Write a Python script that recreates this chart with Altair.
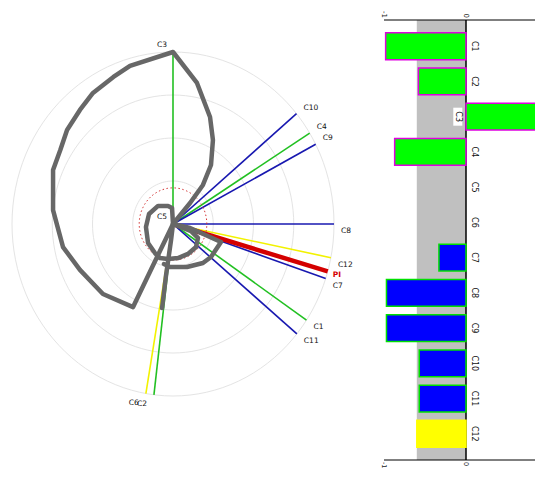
import altair as alt
import numpy as np
import pandas as pd

# ---------------- data ----------------
GREEN, BLUE, YELLOW, RED = "#22c022", "#1818b0", "#f2f200", "#d40000"

ray_names   = ["C1", "C2", "C3", "C4", "C5", "C6", "C7", "C8", "C9", "C10", "C11", "C12", "PI"]
ray_angles  = [-34.0, -96.8, 90.0, 31.9, 90.0, -99.7, -18.5, 0.0, 27.6, 39.9, -39.7, -11.3, -16.0]
ray_lengths = [1.0, 1.0, 1.0, 1.0, 0.0, 1.0, 1.0, 1.0, 1.0, 1.0, 1.0, 1.0, 1.0]
ray_colors  = [GREEN, GREEN, GREEN, GREEN, GREEN, YELLOW, BLUE, BLUE, BLUE, BLUE, BLUE, YELLOW, RED]

# locus curve (three pieces), in polar-plot units
curve_a_x = [-0.068, -0.043, -0.012, 0.0, 0.106, 0.186, 0.236, 0.248, 0.230, 0.149, 0.0,
             -0.267, -0.370, -0.497, -0.578, -0.658, -0.700, -0.745, -0.745, -0.683, -0.578,
             -0.435, -0.248, -0.099, 0.0]
curve_a_y = [-0.488, -0.297, -0.093, 0.0, 0.122, 0.227, 0.343, 0.488, 0.622, 0.820, 1.0,
             0.919, 0.855, 0.762, 0.663, 0.547, 0.430, 0.314, 0.081, -0.134, -0.267,
             -0.407, -0.483, -0.192, 0.0]
curve_b_x = [0.0, -0.006, -0.031, -0.093, -0.149, -0.168, -0.155, -0.112, -0.081, -0.031,
             0.031, 0.093, 0.143, 0.155, 0.112, 0.0]
curve_b_y = [0.0, 0.093, 0.105, 0.105, 0.058, -0.017, -0.110, -0.169, -0.198, -0.203,
             -0.198, -0.174, -0.134, -0.081, -0.041, 0.0]
curve_c_x = [0.0, 0.106, 0.298, 0.236, 0.186, 0.087, -0.019, -0.056]
curve_c_y = [0.0, -0.023, -0.105, -0.192, -0.227, -0.250, -0.250, -0.233]

ring_radii = [0.25, 0.5, 0.75, 1.0]
ref_circle_radius = 0.21

bar_cats   = ["C1", "C2", "C3", "C4", "C5", "C6", "C7", "C8", "C9", "C10", "C11", "C12"]
bar_values = [-0.98, -0.58, 1.05, -0.87, 0.0, 0.0, -0.33, -0.97, -0.97, -0.57, -0.57, -0.60]
bar_fill   = ["#00ff00", "#00ff00", "#00ff00", "#00ff00", "#00ff00", "#00ff00",
              "#0000ff", "#0000ff", "#0000ff", "#0000ff", "#0000ff", "#ffff00"]
bar_stroke = ["#e000e0", "#e000e0", "#e000e0", "#e000e0", "#e000e0", "#e000e0",
              "#00e000", "#00e000", "#00e000", "#00e000", "#00e000", "#ffff00"]
shade_range = [-0.6, 0.0]
tick_values = [-1, 0]
tick_labels = ["-1", "0"]

FONT = "DejaVu Sans"
W, H = 527, 461

# ---------------- polar plot ----------------
xsL = alt.Scale(domain=[-1, 1], range=[4, 326], nice=False, zero=False)
ysL = alt.Scale(domain=[-1, 1], range=[388, 44], nice=False, zero=False)

ring_t = np.arange(0, 361, 3)
ring_rows = []
for r in ring_radii:
    for t in ring_t:
        ring_rows.append({"ring": r, "t": t, "x": r * np.cos(np.radians(t)), "y": r * np.sin(np.radians(t))})
rings_df = pd.DataFrame(ring_rows)
refc_df = pd.DataFrame({"t": ring_t,
                        "x": ref_circle_radius * np.cos(np.radians(ring_t)),
                        "y": ref_circle_radius * np.sin(np.radians(ring_t))})

ang = np.radians(np.array(ray_angles))
ln = np.array(ray_lengths)
rays_df = pd.DataFrame({
    "name": ray_names, "color": ray_colors,
    "x0": 0.0, "y0": 0.0,
    "x1": ln * np.cos(ang), "y1": ln * np.sin(ang),
    "cosv": np.cos(ang), "sinv": np.sin(ang),
})
rays_draw = rays_df[ln > 0]

curve_rows = []
for pid, (xs, ys) in enumerate([(curve_a_x, curve_a_y), (curve_b_x, curve_b_y), (curve_c_x, curve_c_y)]):
    for i, (xv, yv) in enumerate(zip(xs, ys)):
        curve_rows.append({"piece": pid, "idx": i, "x": xv, "y": yv})
curve_df = pd.DataFrame(curve_rows)


def X(f):
    return alt.X(f, type="quantitative", scale=xsL, axis=None)


def Y(f):
    return alt.Y(f, type="quantitative", scale=ysL, axis=None)


rings = alt.Chart(rings_df).mark_line(color="#e4e4e4", strokeWidth=1).encode(
    x=X("x"), y=Y("y"), detail="ring:N", order="t:Q")
refc = alt.Chart(refc_df).mark_line(color="#d43030", strokeWidth=1, strokeDash=[1.5, 2.5]).encode(
    x=X("x"), y=Y("y"), order="t:Q")
rays = alt.Chart(rays_draw).mark_rule().encode(
    x=X("x0"), y=Y("y0"), x2="x1:Q", y2="y1:Q",
    color=alt.Color("color:N", scale=None),
    strokeWidth=alt.condition(alt.datum.name == "PI", alt.value(4.5), alt.value(1.6)))
curve = alt.Chart(curve_df).mark_line(color="#676767", strokeWidth=4.5, strokeJoin="round",
                                      strokeCap="round").encode(
    x=X("x"), y=Y("y"), detail="piece:N", order="idx:Q")

lab_df = rays_df[rays_df["name"] != "PI"]
label_layers = []
for cond, align, baseline, dx, dy in [
    ((lab_df["cosv"] > 0.3) & (lab_df["sinv"] > 0.05), "left", "bottom", 7, -2),
    ((lab_df["cosv"] > 0.3) & (lab_df["sinv"] <= 0.05), "left", "top", 7, 3),
    ((lab_df["cosv"] <= 0.3) & (lab_df["sinv"] > 0.05), "right", "bottom", -6, -3),
    ((lab_df["cosv"] <= 0.3) & (lab_df["sinv"] <= 0.05), "right", "top", -7, 5),
]:
    label_layers.append(alt.Chart(lab_df[cond]).mark_text(
        align=align, baseline=baseline, dx=dx, dy=dy, fontSize=7.5, font=FONT, color="#111111"
    ).encode(x=X("x1"), y=Y("y1"), text="name:N"))
pi_label = alt.Chart(rays_df[rays_df["name"] == "PI"]).mark_text(
    align="left", baseline="top", dx=5, dy=0, fontSize=7.5, font=FONT, color=RED, fontWeight="bold"
).encode(x=X("x1"), y=Y("y1"), text="name:N")

polar = alt.layer(rings, rays, refc, curve, *label_layers, pi_label)

# ---------------- bar panel ----------------
Y_TOP, Y_BOT = 12, 452
xsR = alt.Scale(domain=[-1.0, 0.0], range=[376, 458], nice=False, zero=False)
ysR = alt.Scale(domain=bar_cats, range=[Y_TOP, Y_BOT], paddingInner=0.24, paddingOuter=0.365)

bars_df = pd.DataFrame({"cat": bar_cats, "val": bar_values, "zero": 0.0,
                        "fill": bar_fill, "stroke": bar_stroke})
bars_df["lx"] = np.where(bars_df["val"] > 0, -0.1, 0.1)
bars_df["blo"] = bars_df["lx"] - 0.055
bars_df["bhi"] = bars_df["lx"] + 0.055
shade_df = pd.DataFrame({"lo": [shade_range[0]], "hi": [shade_range[1]]})
ticks_df = pd.DataFrame({"v": tick_values, "lab": tick_labels})


def XR(f):
    return alt.X(f, type="quantitative", scale=xsR, axis=None)


def YR(f):
    return alt.Y(f, type="nominal", scale=ysR, axis=None)


shade = alt.Chart(shade_df).mark_rect(color="#c0c0c0").encode(
    x=XR("lo"), x2="hi:Q", y=alt.value(Y_TOP), y2=alt.value(Y_BOT))
zero_rule = alt.Chart(shade_df).mark_rule(color="black", strokeWidth=1.5).encode(
    x=XR("hi"), y=alt.value(Y_TOP), y2=alt.value(Y_BOT))
top_line = alt.Chart(ticks_df[ticks_df["v"] == tick_values[0]]).mark_rule(color="black", strokeWidth=1).encode(
    x=XR("v"), x2=alt.value(W), y=alt.value(Y_TOP))
bot_line = alt.Chart(ticks_df[ticks_df["v"] == tick_values[0]]).mark_rule(color="black", strokeWidth=1).encode(
    x=XR("v"), x2=alt.value(W), y=alt.value(Y_BOT))
top_labels = alt.Chart(ticks_df).mark_text(angle=90, align="right", baseline="middle", fontSize=7,
                                           font=FONT, color="#222222").encode(
    x=XR("v"), y=alt.value(Y_TOP - 2), text="lab:N")
bot_labels = alt.Chart(ticks_df).mark_text(angle=90, align="left", baseline="middle", fontSize=6.5,
                                           font=FONT, color="#222222").encode(
    x=XR("v"), y=alt.value(Y_BOT + 2), text="lab:N")
bars = alt.Chart(bars_df[bars_df["val"] != 0]).mark_bar(clip=True, strokeWidth=1.5).encode(
    x=XR("val"), x2="zero:Q", y=YR("cat"),
    fill=alt.Fill("fill:N", scale=None), stroke=alt.Stroke("stroke:N", scale=None))
label_box = alt.Chart(bars_df[bars_df["val"] > 0]).mark_bar(color="white", size=18).encode(
    x=XR("blo"), x2="bhi:Q", y=YR("cat"))
bar_labels = alt.Chart(bars_df).mark_text(angle=90, fontSize=8, font=FONT, align="center",
                                          baseline="middle", color="#111111").encode(
    x=XR("lx"), y=YR("cat"), text="cat:N")

barpanel = alt.layer(shade, zero_rule, top_line, bot_line, top_labels, bot_labels,
                     bars, label_box, bar_labels)

chart = alt.layer(polar, barpanel).resolve_scale(x="independent", y="independent").properties(
    width=W, height=H, padding=0, autosize=alt.AutoSizeParams(type="none")
).configure_view(stroke=None)
chart.save("out.html", embed_options={"renderer": "svg", "actions": False})
